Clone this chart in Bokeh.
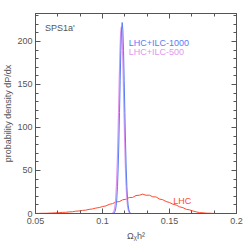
from bokeh.plotting import figure
from bokeh.models import FixedTicker, LinearAxis, Range1d, Label, CustomLabelingPolicy
from bokeh.embed import file_html
from bokeh.resources import INLINE

# --- data ---
lhc_x = [0.0500, 0.0525, 0.0550, 0.0575, 0.0600, 0.0625, 0.0650, 0.0675, 0.0700, 0.0725,
         0.0750, 0.0775, 0.0800, 0.0825, 0.0850, 0.0875, 0.0900, 0.0925, 0.0950, 0.0975,
         0.1000, 0.1025, 0.1050, 0.1075, 0.1100, 0.1125, 0.1150, 0.1175, 0.1200, 0.1225,
         0.1250, 0.1275, 0.1300, 0.1325, 0.1350, 0.1375, 0.1400, 0.1425, 0.1450, 0.1475,
         0.1500, 0.1525, 0.1550, 0.1575, 0.1600, 0.1625, 0.1650, 0.1675, 0.1700, 0.1725,
         0.1750, 0.1775, 0.1800, 0.1825, 0.1850]
lhc_y = [0.05, 0.1, 0.25, 0.2, 0.45, 0.55, 0.8, 0.9, 1.3, 1.4,
         1.8, 2.0, 2.7, 2.9, 3.6, 3.9, 4.8, 5.3, 6.3, 6.9,
         8.1, 8.8, 10.6, 11.5, 13.4, 13.8, 15.9, 16.6, 18.6, 18.7,
         20.9, 21.2, 22.5, 21.2, 21.3, 19.4, 19.2, 16.8, 16.0, 13.9,
         12.8, 10.8, 9.8, 7.8, 6.8, 4.9, 4.2, 2.9, 1.9, 1.0,
         0.8, 0.35, 0.3, 0.1, 0.05]

ilc1000_x = [0.1087, 0.1092, 0.1097, 0.1102, 0.1107, 0.1112, 0.1117, 0.1122, 0.1127, 0.1132,
             0.1137, 0.1142, 0.1147, 0.1152, 0.1157, 0.1162, 0.1167, 0.1172, 0.1177, 0.1182,
             0.1187, 0.1192, 0.1197, 0.1202, 0.1207]
ilc1000_y = [0.7, 1.8, 4.1, 8.8, 17.3, 31.4, 52.8, 81.9, 117.3, 155.0,
             189.3, 213.3, 222.0, 213.3, 189.3, 155.0, 117.3, 81.9, 52.8, 31.4,
             17.3, 8.8, 4.1, 1.8, 0.7]

ilc500_x = [0.1075, 0.1080, 0.1085, 0.1090, 0.1095, 0.1100, 0.1105, 0.1110, 0.1115, 0.1120,
            0.1125, 0.1130, 0.1135, 0.1140, 0.1145, 0.1150, 0.1155, 0.1160, 0.1165, 0.1170,
            0.1175, 0.1180, 0.1185, 0.1190, 0.1195, 0.1200, 0.1205]
ilc500_y = [0.4, 1.1, 2.6, 5.6, 11.3, 21.0, 36.2, 58.3, 87.1, 121.0,
            156.2, 187.5, 209.2, 217.0, 209.2, 187.5, 156.2, 121.0, 87.1, 58.3,
            36.2, 21.0, 11.3, 5.6, 2.6, 1.1, 0.4]

x_major = [0.05, 0.10, 0.15, 0.20]
x_minor = [0.0667, 0.0833, 0.1167, 0.1333, 0.1667, 0.1833]
y_major = [0, 50, 100, 150, 200]
y_minor = [10, 20, 30, 40, 60, 70, 80, 90, 110, 120, 130, 140, 160, 170, 180, 190, 210, 220, 230]

FONT = "Liberation Sans"
GRAY = "#555555"
RED = "#ff4a2e"
BLUE = "#5a7cf5"
VIOLET = "#df97f0"

p = figure(output_backend="svg", toolbar_location=None,
           frame_width=201, frame_height=200,
           x_range=Range1d(0.05, 0.2), y_range=Range1d(0, 232.5),
           x_axis_location=None, y_axis_location=None,
           min_border_left=0, min_border_right=5, min_border_top=13, min_border_bottom=0)
p.background_fill_color = "white"
p.border_fill_color = "white"
p.outline_line_color = GRAY
p.xgrid.visible = False
p.ygrid.visible = False

HIDE = CustomLabelingPolicy(code="""
for (const i of indices) indices.unset(i)
return indices
""")

def style(ax, labels=True):
    ax.axis_line_color = GRAY
    ax.major_tick_line_color = GRAY
    ax.minor_tick_line_color = GRAY
    ax.major_tick_in = 5
    ax.major_tick_out = 0
    ax.minor_tick_in = 3
    ax.minor_tick_out = 0
    ax.major_label_text_font = FONT
    ax.major_label_text_font_size = "9px"
    ax.major_label_text_color = GRAY
    ax.axis_label_text_font = FONT
    ax.axis_label_text_font_size = "9px"
    ax.axis_label_text_color = GRAY
    ax.axis_label_text_font_style = "normal"
    if not labels:
        ax.major_label_policy = HIDE
        ax.major_label_standoff = 0

xt = FixedTicker(ticks=x_major, minor_ticks=x_minor)
yt = FixedTicker(ticks=y_major, minor_ticks=y_minor)

xb = LinearAxis(ticker=xt, axis_label="Ωᵪh²")
style(xb)
xb.major_label_standoff = 4
xb.axis_label_standoff = 4
xb.major_label_overrides = {0.05: "0.05", 0.1: "0.1", 0.15: "0.15", 0.2: "0.2"}
p.add_layout(xb, "below")

yl = LinearAxis(ticker=yt, axis_label="probability density dP/dx")
style(yl)
yl.major_label_standoff = 3
yl.axis_label_standoff = 1
p.add_layout(yl, "left")

xa = LinearAxis(ticker=xt)
style(xa, labels=False)
p.add_layout(xa, "above")
yr = LinearAxis(ticker=yt)
style(yr, labels=False)
p.add_layout(yr, "right")

p.line(lhc_x, lhc_y, color=RED, line_width=1)
p.line(ilc500_x, ilc500_y, color=VIOLET, line_width=1.2)
p.line(ilc1000_x, ilc1000_y, color=BLUE, line_width=1)

for txt, x, y, c, align in [
    ("SPS1a'", 0.057, 216, GRAY, "left"),
    ("LHC+ILC-1000", 0.1196, 198, BLUE, "left"),
    ("LHC+ILC-500", 0.1196, 188, VIOLET, "left"),
    ("LHC", 0.1595, 14.5, RED, "center"),
]:
    p.add_layout(Label(x=x, y=y, text=txt, text_color=c, text_font=FONT,
                       text_font_size="9px", text_align=align, text_baseline="middle"))

open("out.html", "w").write(file_html(p, INLINE))
